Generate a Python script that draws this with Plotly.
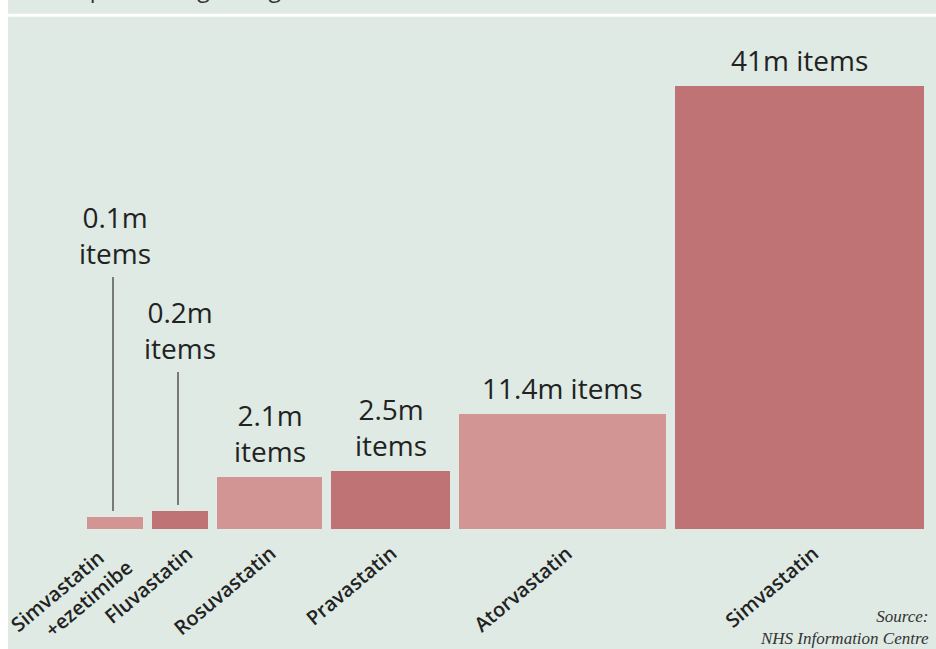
import plotly.graph_objects as go

# ---- data ----
drugs = ["Simvastatin&#160;&#160;&#160;<br>+ezetimibe", "Fluvastatin", "Rosuvastatin",
         "Pravastatin", "Atorvastatin", "Simvastatin"]
items_m = [0.1, 0.2, 2.1, 2.5, 11.4, 41]          # million items
bar_heights = [12, 18, 52, 58, 115, 443]           # drawn bar heights
bar_widths = [56, 56, 105, 119, 207, 249]          # drawn bar widths

# ---- style / layout ----
W, H = 936, 649
BASE_PX = 529          # pixel row of the bar baseline
LEFT = 87
GAP = 9
label_lift = [238, 137, 0, 0, 0, 0]
label_wrap = [True, True, True, True, False, False]
tick_dx = [26, 21, 14, 14, 18, 27]
tick_dy = [-2, -8, -8, -8, -8, -8]
colors = ["#d39594", "#bf7374"] * 3
BG = "#deeae3"
TXT = "#222222"

centers = []
x = LEFT
for w in bar_widths:
    centers.append(x + w / 2)
    x += w + GAP

fig = go.Figure()
fig.add_trace(go.Bar(
    x=centers, y=bar_heights, width=bar_widths,
    marker=dict(color=colors, line=dict(width=0)),
    hoverinfo="skip", showlegend=False,
))

annotations = []
shapes = []

# background panel and white separator
shapes.append(dict(type="rect", xref="paper", yref="paper",
                   x0=8 / W, x1=1, y0=0, y1=1,
                   fillcolor=BG, line=dict(width=0), layer="below"))
shapes.append(dict(type="line", xref="paper", yref="paper",
                   x0=8 / W, x1=1, y0=1 - 15.3 / H, y1=1 - 15.3 / H,
                   line=dict(color="white", width=3), layer="below"))

# title above, mostly outside the picture
annotations.append(dict(
    xref="paper", yref="paper", x=20 / W, y=1 - 6 / H,
    xanchor="left", yanchor="bottom", showarrow=False,
    text="Statin prescribing in England, 2007",
    font=dict(family="Open Sans", size=23, color="#333333"),
))

for c, h, v, lift, wrap, name, dx, dy in zip(centers, bar_heights, items_m,
                                             label_lift, label_wrap, drugs,
                                             tick_dx, tick_dy):
    sep = "<br>" if wrap else " "
    ybot = h + 5 + lift
    annotations.append(dict(
        x=c, y=ybot, xref="x", yref="y", xanchor="center", yanchor="bottom",
        showarrow=False, text=f"{v:g}m{sep}items",
        font=dict(family="Open Sans", size=28, color=TXT),
    ))
    if lift > 0:
        shapes.append(dict(type="line", xref="x", yref="y",
                           x0=c - 2, x1=c - 2, y0=h + 6, y1=ybot - 3,
                           line=dict(color="#555555", width=1.5)))
    annotations.append(dict(
        x=c + dx, y=dy, xref="x", yref="y", xanchor="right", yanchor="top",
        showarrow=False, text=name, textangle=-40, align="right",
        font=dict(family="Open Sans", size=20, color=TXT, weight=600),
    ))

annotations.append(dict(
    xref="paper", yref="paper", x=931 / W, y=1 - 605 / H,
    xanchor="right", yanchor="top", showarrow=False, align="right",
    text="Source:<br>NHS Information Centre",
    font=dict(family="Liberation Serif", size=17, color="#333333", style="italic"),
))

fig.update_layout(
    width=W, height=H,
    margin=dict(l=0, r=0, t=0, b=0),
    paper_bgcolor="white", plot_bgcolor="rgba(0,0,0,0)",
    xaxis=dict(range=[0, W], visible=False, fixedrange=True),
    yaxis=dict(range=[-(H - BASE_PX), BASE_PX], visible=False, fixedrange=True),
    bargap=0,
    annotations=annotations, shapes=shapes,
)

fig.write_html("out.html")
